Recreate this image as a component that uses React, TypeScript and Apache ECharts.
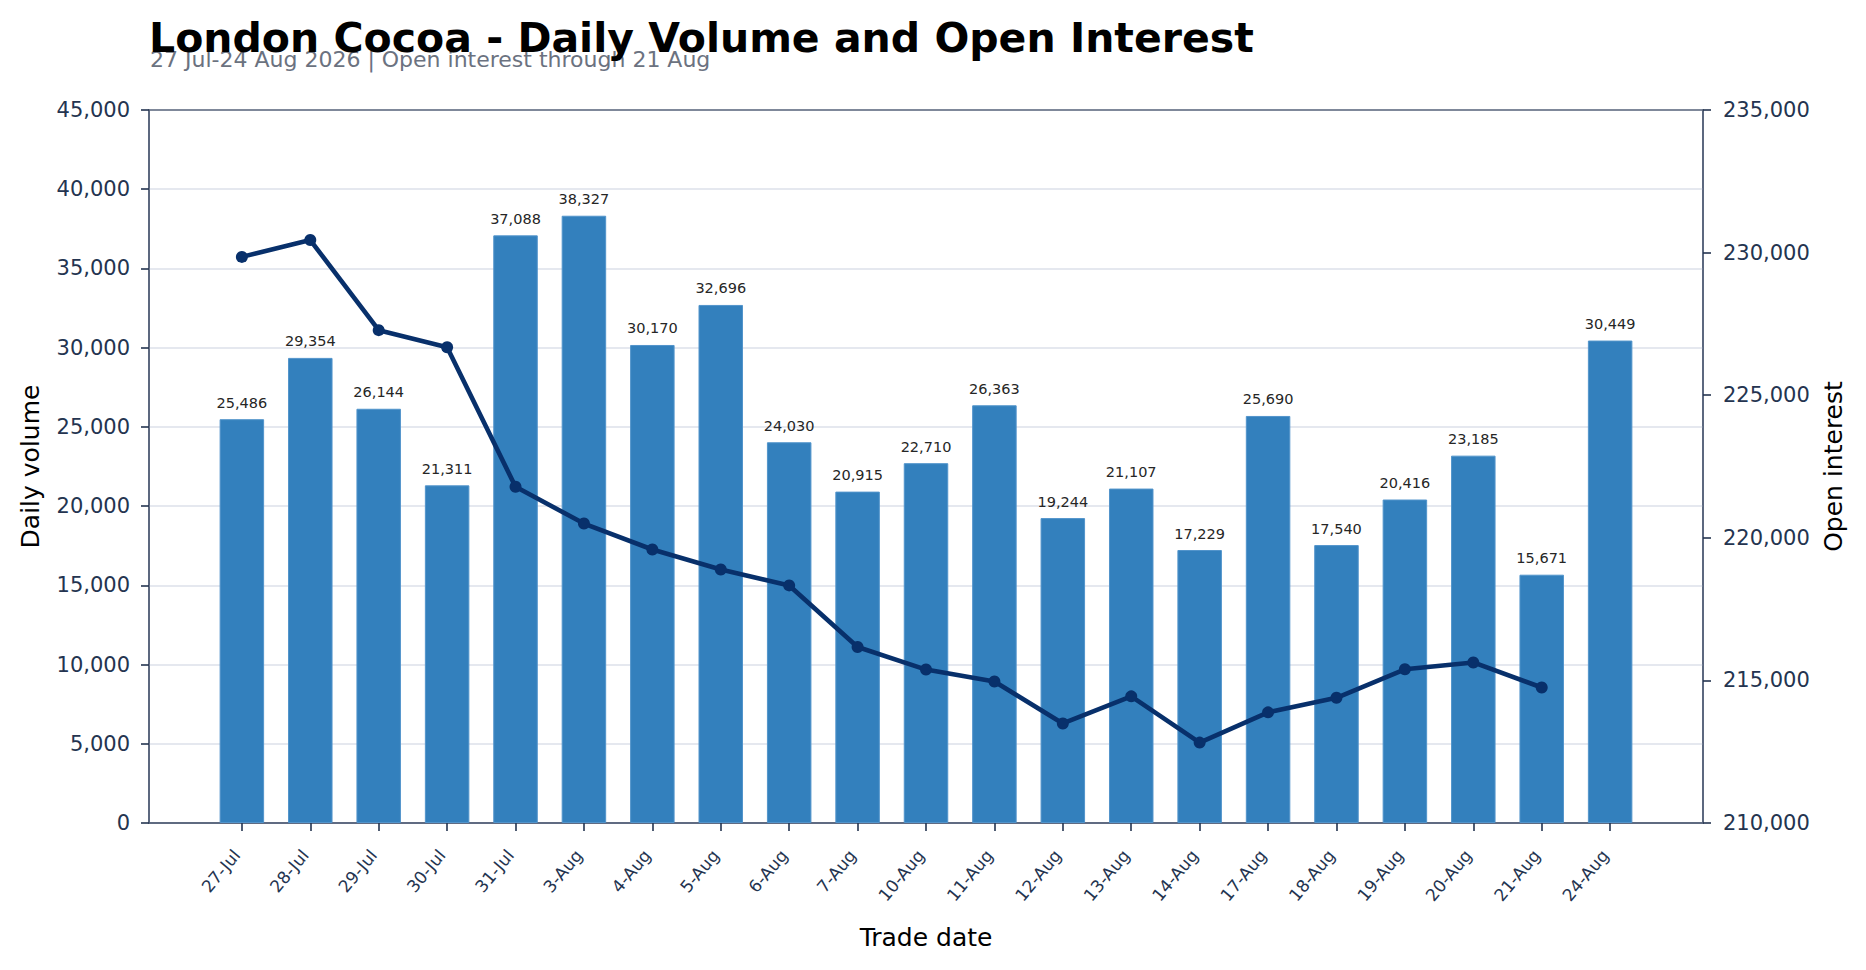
import React, { useEffect, useRef } from "react";
import * as echarts from "echarts";

const categories = [
  "27-Jul", "28-Jul", "29-Jul", "30-Jul", "31-Jul", "3-Aug", "4-Aug", "5-Aug", "6-Aug", "7-Aug",
  "10-Aug", "11-Aug", "12-Aug", "13-Aug", "14-Aug", "17-Aug", "18-Aug", "19-Aug", "20-Aug", "21-Aug", "24-Aug",
];

const dailyVolume = [
  25486, 29354, 26144, 21311, 37088, 38327, 30170, 32696, 24030, 20915,
  22710, 26363, 19244, 21107, 17229, 25690, 17540, 20416, 23185, 15671, 30449,
];

const openInterest = [
  229850, 230440, 227280, 226680, 221790, 220500, 219590, 218890, 218330, 216170,
  215380, 214960, 213490, 214440, 212820, 213880, 214390, 215390, 215630, 214750,
];

const titleText = "London Cocoa - Daily Volume and Open Interest";
const subtitleText = "27 Jul-24 Aug 2026 | Open interest through 21 Aug";

const FONT = "DejaVu Sans";
const fmt = (v: number) => Math.round(v).toLocaleString("en-US");

export default function App() {
  const ref = useRef<HTMLDivElement>(null);

  useEffect(() => {
    if (!ref.current) return;
    const chart = echarts.init(ref.current, undefined, { renderer: "svg" });
    const idx = categories.map((_, i) => i);
    const spine = "#56627a";
    const tickCol = "#243450";

    chart.setOption({
      animation: false,
      backgroundColor: "#ffffff",
      textStyle: { fontFamily: FONT },
      title: [
        {
          text: titleText,
          left: 149,
          top: 17,
          padding: 0,
          z: 3,
          textStyle: { fontFamily: FONT, fontSize: 41, fontWeight: "bold", color: "#000000" },
        },
        {
          text: subtitleText,
          left: 150,
          top: 48,
          padding: 0,
          z: 2,
          textStyle: { fontFamily: FONT, fontSize: 22, fontWeight: "normal", color: "#6b7280" },
        },
      ],
      grid: {
        left: 149,
        right: 163,
        top: 110,
        bottom: 147,
        show: true,
        borderColor: spine,
        borderWidth: 1.6,
        backgroundColor: "transparent",
      },
      xAxis: {
        type: "value",
        min: -1.3575,
        max: 21.3575,
        name: "Trade date",
        nameLocation: "middle",
        nameGap: 102,
        nameTextStyle: { fontFamily: FONT, fontSize: 25, color: "#000000" },
        axisLine: { show: true, onZero: false, lineStyle: { color: spine, width: 1.6 } },
        axisTick: {
          show: true,
          customValues: idx,
          length: 8,
          lineStyle: { color: tickCol, width: 1.6 },
        },
        axisLabel: {
          show: true,
          customValues: idx,
          rotate: 50,
          margin: 23,
          padding: [0, 8, 0, 0],
          fontFamily: FONT,
          fontSize: 17,
          color: tickCol,
          formatter: (v: number) => categories[Math.round(v)] ?? "",
        },
        splitLine: { show: false },
      },
      yAxis: [
        {
          type: "value",
          min: 0,
          max: 45000,
          interval: 5000,
          position: "left",
          name: "Daily volume",
          nameLocation: "middle",
          nameRotate: 90,
          nameGap: 106,
          nameTextStyle: { fontFamily: FONT, fontSize: 25, color: "#000000" },
          axisLine: { show: true, onZero: false, lineStyle: { color: spine, width: 1.6 } },
          axisTick: { show: true, length: 8, lineStyle: { color: tickCol, width: 1.6 } },
          axisLabel: { fontFamily: FONT, fontSize: 21, color: tickCol, margin: 19, formatter: fmt },
          splitLine: {
            show: true,
            showMinLine: false,
            showMaxLine: false,
            lineStyle: { color: "#dde1ea", width: 1.5 },
          },
        },
        {
          type: "value",
          min: 210000,
          max: 235000,
          interval: 5000,
          position: "right",
          name: "Open interest",
          nameLocation: "middle",
          nameRotate: 90,
          nameGap: 116,
          nameTextStyle: { fontFamily: FONT, fontSize: 25, color: "#000000" },
          axisLine: { show: true, onZero: false, lineStyle: { color: spine, width: 1.6 } },
          axisTick: { show: true, length: 8, lineStyle: { color: tickCol, width: 1.6 } },
          axisLabel: { fontFamily: FONT, fontSize: 21, color: tickCol, margin: 20, formatter: fmt },
          splitLine: { show: false },
        },
      ],
      series: [
        {
          type: "bar",
          name: "Daily volume",
          xAxisIndex: 0,
          yAxisIndex: 0,
          barWidth: 44.5,
          data: dailyVolume.map((v, i) => [i, v]),
          itemStyle: { color: "#3380bd", borderColor: "#5294cb", borderWidth: 1 },
          label: {
            show: true,
            position: "top",
            distance: 9,
            fontFamily: FONT,
            fontSize: 14.5,
            color: "#262626",
            formatter: (p: any) => fmt(p.value[1]),
          },
          z: 2,
        },
        {
          type: "line",
          name: "Open interest",
          xAxisIndex: 0,
          yAxisIndex: 1,
          data: openInterest.map((v, i) => [i, v]),
          symbol: "circle",
          symbolSize: 12,
          lineStyle: { color: "#08306b", width: 4.6 },
          itemStyle: { color: "#08306b" },
          z: 5,
        },
      ],
    });

    return () => chart.dispose();
  }, []);

  return (
    <div
      ref={ref}
      style={{ position: "fixed", left: 0, top: 0, width: "1866px", height: "970px" }}
    />
  );
}
